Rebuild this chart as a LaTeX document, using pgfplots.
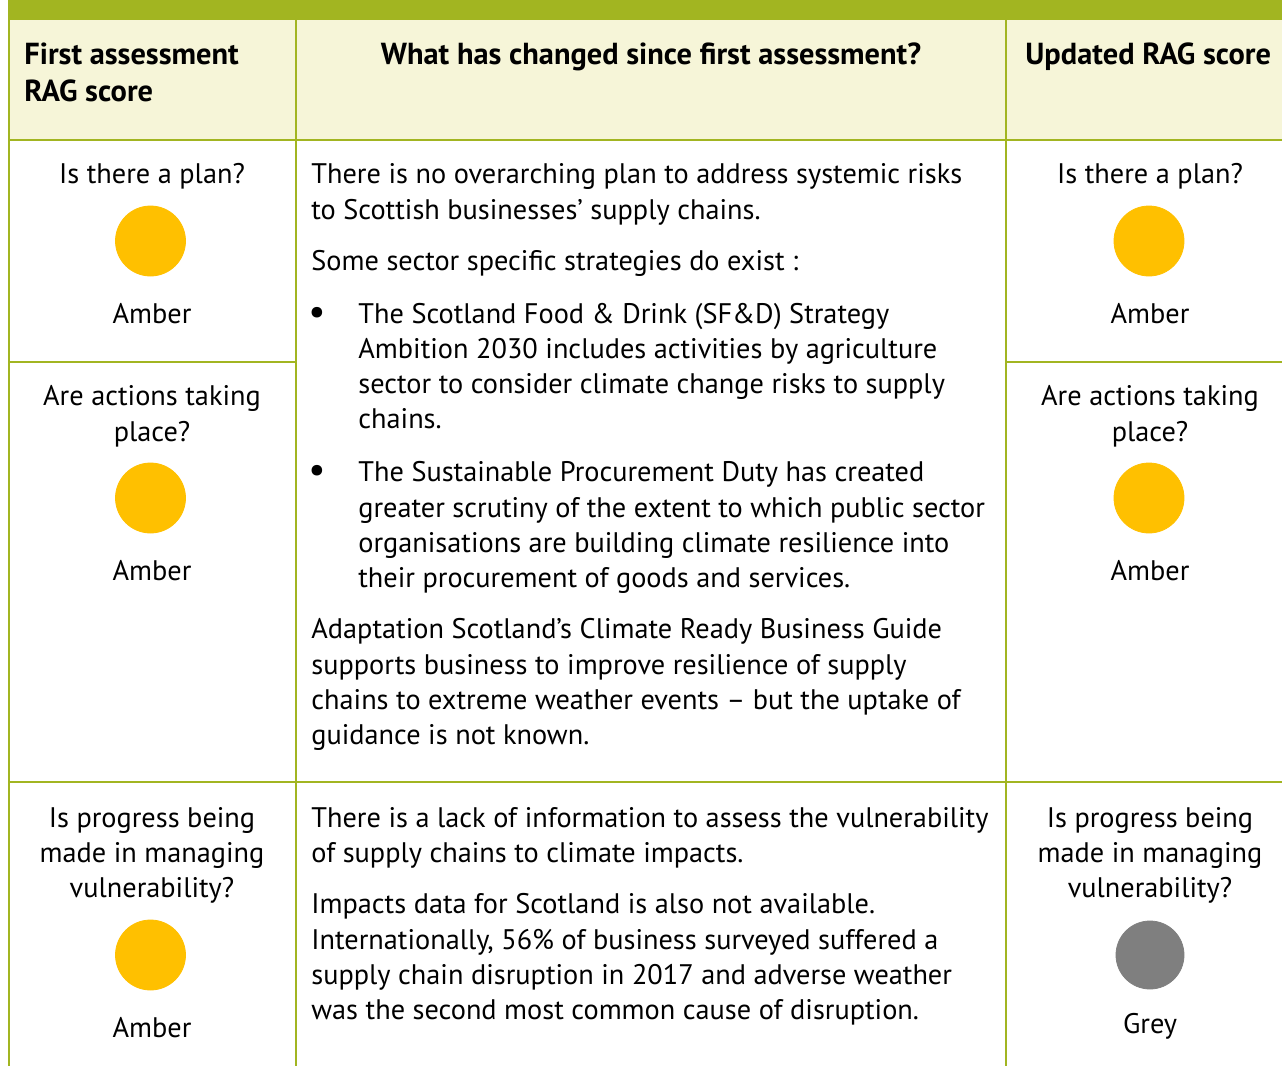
\documentclass[border=0pt]{standalone}
\usepackage{pgfplots}
\pgfplotsset{compat=1.18}
\usepackage{fontspec}
\setmainfont{PT Sans}
\definecolor{bargreen}{HTML}{A2B521}
\definecolor{cream}{HTML}{F6F5D8}
\definecolor{amber}{HTML}{FFC000}
\definecolor{ragrey}{HTML}{7F7F7F}
\newcommand{\Lt}[3]{\node[anchor=base west,inner sep=0pt] at (axis cs:#1,#2) {#3};}
\newcommand{\Ct}[3]{\node[anchor=base,inner sep=0pt] at (axis cs:#1,#2) {#3};}
\newcommand{\Hd}{\fontsize{15.2}{18}\selectfont\bfseries}
\newcommand{\Bul}{{\fontsize{19}{19}\selectfont\textbullet}}
\begin{document}
\begin{tikzpicture}
\fontsize{14.15}{17.5}\selectfont
\begin{axis}[width=641pt,height=533pt,scale only axis,
  xmin=0,xmax=1282,ymin=0,ymax=1066,y dir=reverse,
  hide axis,clip=false]
\fill[white] (axis cs:0,0) rectangle (axis cs:1282,1066);
\fill[bargreen] (axis cs:8,0) rectangle (axis cs:1282,20);
\fill[cream] (axis cs:9,20) rectangle (axis cs:1282,140);
\draw[bargreen,line width=1pt] (axis cs:9,20) -- (axis cs:9,1066);
\draw[bargreen,line width=1pt] (axis cs:296,20) -- (axis cs:296,1066);
\draw[bargreen,line width=1pt] (axis cs:1006,20) -- (axis cs:1006,1066);
\draw[bargreen,line width=1pt] (axis cs:9,140) -- (axis cs:1282,140);
\draw[bargreen,line width=1pt] (axis cs:9,362) -- (axis cs:296,362);
\draw[bargreen,line width=1pt] (axis cs:1006,362) -- (axis cs:1282,362);
\draw[bargreen,line width=1pt] (axis cs:9,782) -- (axis cs:1282,782);
\addplot[only marks,mark=*,mark size=17.5pt,color=amber] coordinates {
 (150.5,241) (150.5,498) (150.5,955) (1149,241) (1149,498)};
\addplot[only marks,mark=*,mark size=17pt,color=ragrey] coordinates {
 (1150,955)};
% headers
\Lt{24}{64}{\Hd First assessment}
\Lt{24}{101}{\Hd RAG score}
\Ct{651}{64}{\Hd What has changed since first assessment?}
\Lt{1025}{64}{\Hd Updated RAG score}
% left column
\Ct{152}{183}{Is there a plan?}
\Ct{152}{323}{Amber}
\Ct{152}{405}{Are actions taking}
\Ct{152}{441}{place?}
\Ct{152}{580}{Amber}
\Ct{152}{827}{Is progress being}
\Ct{152}{862}{made in managing}
\Ct{152}{897}{vulnerability?}
\Ct{152}{1037}{Amber}
% right column
\Ct{1150}{183}{Is there a plan?}
\Ct{1150}{323}{Amber}
\Ct{1150}{405}{Are actions taking}
\Ct{1150}{441}{place?}
\Ct{1150}{580}{Amber}
\Ct{1150}{827}{Is progress being}
\Ct{1150}{862}{made in managing}
\Ct{1150}{897}{vulnerability?}
\Ct{1150}{1033}{Grey}
% middle column
\Lt{311}{183}{There is no overarching plan to address systemic risks}
\Lt{311}{219}{to Scottish businesses’ supply chains.}
\Lt{311}{270}{Some sector specific strategies do exist :}
\Ct{317}{324}{\Bul}
\Lt{358}{323}{The Scotland Food \& Drink (SF\&D) Strategy}
\Lt{358}{358}{Ambition 2030 includes activities by agriculture}
\Lt{358}{393}{sector to consider climate change risks to supply}
\Lt{358}{428}{chains.}
\Ct{317}{482}{\Bul}
\Lt{358}{481}{The Sustainable Procurement Duty has created}
\Lt{358}{517}{greater scrutiny of the extent to which public sector}
\Lt{358}{552}{organisations are building climate resilience into}
\Lt{358}{587}{their procurement of goods and services.}
\Lt{311}{638}{Adaptation Scotland’s Climate Ready Business Guide}
\Lt{311}{674}{supports business to improve resilience of supply}
\Lt{311}{709}{chains to extreme weather events – but the uptake of}
\Lt{311}{744}{guidance is not known.}
\Lt{311}{827}{There is a lack of information to assess the vulnerability}
\Lt{311}{862}{of supply chains to climate impacts.}
\Lt{311}{913}{Impacts data for Scotland is also not available.}
\Lt{311}{949}{Internationally, 56\% of business surveyed suffered a}
\Lt{311}{984}{supply chain disruption in 2017 and adverse weather}
\Lt{311}{1019}{was the second most common cause of disruption.}
\end{axis}
\pgfresetboundingbox
\path[use as bounding box] (current axis.south west) rectangle (current axis.north east);
\end{tikzpicture}
\end{document}
